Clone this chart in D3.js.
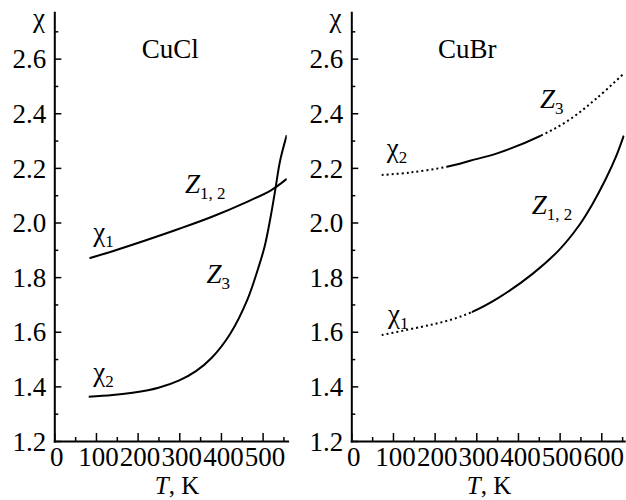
<!DOCTYPE html>
<html>
<head>
<meta charset="utf-8">
<script src="https://cdn.jsdelivr.net/npm/d3@7"></script>
<style>
  html, body { margin: 0; padding: 0; background: #fff; }
</style>
</head>
<body>
<svg id="chart" width="626" height="500"></svg>
<script>
// CuCl: upper branch (χ1 → Z1,2) and lower branch (χ2 → Z3), T in K
const cuclUpperT   = [84, 140, 220, 300, 380, 460, 520, 558];
const cuclUpperChi = [1.869, 1.895, 1.935, 1.977, 2.022, 2.074, 2.118, 2.160];
const cuclLowerT   = [82, 140, 200, 250, 300, 340, 378, 422, 463, 492, 505, 518, 530, 542, 558];
const cuclLowerChi = [1.362, 1.368, 1.379, 1.395, 1.422, 1.456, 1.505, 1.592, 1.716, 1.845, 1.913, 2.010, 2.116, 2.226, 2.320];

// CuBr: upper branch (χ2 → Z3) and lower branch (χ1 → Z1,2)
const cubrUpperT   = [73, 141, 229, 285, 355, 455, 525, 589, 656];
const cubrUpperChi = [2.174, 2.183, 2.204, 2.226, 2.256, 2.318, 2.378, 2.455, 2.548];
const cubrLowerT   = [73, 165, 230, 289, 355, 435, 499, 547, 579, 611, 635, 654];
const cubrLowerChi = [1.588, 1.617, 1.640, 1.672, 1.726, 1.812, 1.900, 1.990, 2.068, 2.160, 2.240, 2.318];

// Temperature ranges drawn as solid lines; the rest of each branch is dotted
const cuclUpperSolid = [84, 558];
const cuclLowerSolid = [82, 558];
const cubrUpperSolid = [229, 455];
const cubrLowerSolid = [289, 656];

// Axis ticks
const yMajorTicks = [1.2, 1.4, 1.6, 1.8, 2.0, 2.2, 2.4, 2.6];
const yMinorTicks = [1.3, 1.5, 1.7, 1.9, 2.1, 2.3, 2.5, 2.7];
const cuclXMajor = [0, 100, 200, 300, 400, 500];
const cuclXMinor = [50, 150, 250, 350, 450, 550];
const cubrXMajor = [0, 100, 200, 300, 400, 500, 600];
const cubrXMinor = [50, 150, 250, 350, 450, 550, 650];

const svg = d3.select("#chart");
const SERIF = '"Liberation Serif", "Times New Roman", Times, serif';
const FONT = 27, SUB = 17, TITLE = 25;

const y = d3.scaleLinear().domain([1.2, 2.77]).range([441, 12.2]);

const zip = (ts, vs) => ts.map((t, i) => ({ t, v: vs[i] }));

const panels = [
  {
    id: "cucl", title: "CuCl", xDomain: [0, 560], xRange: [54.3, 287.6],
    xMajor: cuclXMajor, xMinor: cuclXMinor,
    curves: [
      { pts: zip(cuclUpperT, cuclUpperChi), solid: cuclUpperSolid },
      { pts: zip(cuclLowerT, cuclLowerChi), solid: cuclLowerSolid }
    ],
    titleX: 141.7, chiX: 39, axisTitleX: 177,
    labels: [
      { x: 93.3, y: 241, main: "χ", sub: "1", italic: false },
      { x: 185,  y: 193, main: "Z", sub: "1, 2", italic: true },
      { x: 206.5, y: 283, main: "Z", sub: "3", italic: true },
      { x: 93.3, y: 381, main: "χ", sub: "2", italic: false }
    ]
  },
  {
    id: "cubr", title: "CuBr", xDomain: [0, 655], xRange: [351.3, 624.2],
    xMajor: cubrXMajor, xMinor: cubrXMinor,
    curves: [
      { pts: zip(cubrUpperT, cubrUpperChi), solid: cubrUpperSolid },
      { pts: zip(cubrLowerT, cubrLowerChi), solid: cubrLowerSolid }
    ],
    titleX: 438, chiX: 335.5, axisTitleX: 489,
    labels: [
      { x: 386.7, y: 157, main: "χ", sub: "2", italic: false },
      { x: 540,   y: 108, main: "Z", sub: "3", italic: true },
      { x: 531.7, y: 214, main: "Z", sub: "1, 2", italic: true },
      { x: 388,   y: 323, main: "χ", sub: "1", italic: false }
    ]
  }
];

const defs = svg.append("defs");

function serifText(sel, size) {
  return sel.attr("font-family", null).attr("font-size", null)
    .style("font-family", SERIF).style("font-size", size + "px").style("fill", "#000");
}

function addLabel(x0, y0, main, sub, italic) {
  const t = serifText(svg.append("text").attr("x", x0).attr("y", y0), FONT);
  t.append("tspan").style("font-style", italic ? "italic" : "normal").text(main);
  if (sub) t.append("tspan").attr("dy", 6).style("font-size", SUB + "px").text(sub);
}

panels.forEach(p => {
  const x = d3.scaleLinear().domain(p.xDomain).range(p.xRange);
  const x0 = p.xRange[0], yBase = y.range()[0];

  // minor ticks
  svg.append("g").attr("transform", `translate(${x0},0)`)
    .call(d3.axisLeft(y).tickValues(yMinorTicks).tickSize(-4).tickFormat(""))
    .call(g => g.select(".domain").remove())
    .call(g => g.selectAll("line").attr("stroke-width", 1.5));
  svg.append("g").attr("transform", `translate(0,${yBase})`)
    .call(d3.axisBottom(x).tickValues(p.xMinor).tickSize(-4).tickFormat(""))
    .call(g => g.select(".domain").remove())
    .call(g => g.selectAll("line").attr("stroke-width", 1.5));

  // y axis with major ticks and labels
  svg.append("g").attr("transform", `translate(${x0},0)`)
    .call(d3.axisLeft(y).tickValues(yMajorTicks).tickSize(-7).tickSizeOuter(0)
      .tickPadding(8).tickFormat(d3.format(".1f")))
    .call(g => g.select(".domain").attr("stroke-width", 2).attr("stroke-linecap", "square"))
    .call(g => g.selectAll("line").attr("stroke-width", 1.5))
    .call(g => serifText(g.selectAll("text"), FONT).attr("dy", "0.34em"));

  // x axis with major ticks and labels
  svg.append("g").attr("transform", `translate(0,${yBase})`)
    .call(d3.axisBottom(x).tickValues(p.xMajor).tickSize(-8).tickSizeOuter(0)
      .tickFormat(d3.format("d")))
    .call(g => g.select(".domain").attr("stroke-width", 2).attr("stroke-linecap", "square"))
    .call(g => g.selectAll("line").attr("stroke-width", 1.5))
    .call(g => serifText(g.selectAll("text"), FONT).attr("y", 24.5).attr("dy", 0).attr("x", 2));

  // curves: solid part and dotted remainder, split by clipping in T
  const line = d3.line().x(d => x(d.t)).y(d => y(d.v)).curve(d3.curveCatmullRom.alpha(0.5));
  p.curves.forEach((c, i) => {
    const tMin = c.pts[0].t, tMax = c.pts[c.pts.length - 1].t;
    const parts = [
      { from: c.solid[0], to: c.solid[1], dash: null },
      { from: tMin - 20, to: c.solid[0], dash: "2 3" },
      { from: c.solid[1], to: tMax + 20, dash: "2 3" }
    ].filter(s => s.to > s.from && !(s.dash && (s.to <= tMin || s.from >= tMax)));
    parts.forEach((s, j) => {
      const cid = `clip-${p.id}-${i}-${j}`;
      defs.append("clipPath").attr("id", cid).append("rect")
        .attr("x", x(s.from)).attr("width", x(s.to) - x(s.from))
        .attr("y", 0).attr("height", 500);
      svg.append("path").datum(c.pts)
        .attr("d", line).attr("fill", "none").attr("stroke", "#000")
        .attr("stroke-width", 2)
        .attr("stroke-dasharray", s.dash)
        .attr("clip-path", `url(#${cid})`);
    });
  });

  // panel texts
  serifText(svg.append("text").attr("x", p.chiX).attr("y", 27).attr("text-anchor", "middle"), FONT)
    .text("χ");
  serifText(svg.append("text").attr("x", p.titleX).attr("y", 58), FONT).text(p.title);
  const at = serifText(svg.append("text").attr("x", p.axisTitleX).attr("y", 494)
    .attr("text-anchor", "middle"), TITLE);
  at.append("tspan").style("font-style", "italic").text("T");
  at.append("tspan").text(", K");

  p.labels.forEach(l => addLabel(l.x, l.y, l.main, l.sub, l.italic));
});
</script>
</body>
</html>
